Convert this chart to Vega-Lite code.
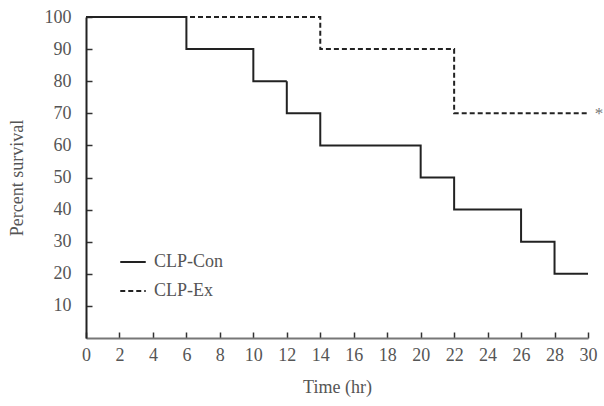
{
  "$schema": "https://vega.github.io/schema/vega-lite/v6.json",
  "width": 502,
  "height": 321,
  "autosize": {"type": "none"},
  "padding": {"left": 86, "top": 17, "right": 16, "bottom": 68},
  "background": "white",
  "config": {
    "view": {"stroke": null},
    "font": "Liberation Serif"
  },
  "datasets": {
    "surv": [
      {"time": 0, "survival": 100, "group": "CLP-Con"},
      {"time": 6, "survival": 90, "group": "CLP-Con"},
      {"time": 10, "survival": 80, "group": "CLP-Con"},
      {"time": 12, "survival": 70, "group": "CLP-Con"},
      {"time": 14, "survival": 60, "group": "CLP-Con"},
      {"time": 20, "survival": 50, "group": "CLP-Con"},
      {"time": 22, "survival": 40, "group": "CLP-Con"},
      {"time": 26, "survival": 30, "group": "CLP-Con"},
      {"time": 28, "survival": 20, "group": "CLP-Con"},
      {"time": 30, "survival": 20, "group": "CLP-Con"},
      {"time": 0, "survival": 100, "group": "CLP-Ex"},
      {"time": 14, "survival": 90, "group": "CLP-Ex"},
      {"time": 22, "survival": 70, "group": "CLP-Ex"},
      {"time": 30, "survival": 70, "group": "CLP-Ex"}
    ],
    "mark": [{"time": 30, "survival": 70, "label": "*"}]
  },
  "encoding": {
    "x": {"field": "time", "type": "quantitative", "title": "Time (hr)",
      "scale": {"domain": [0, 30], "nice": false},
      "axis": {"values": [0,2,4,6,8,10,12,14,16,18,20,22,24,26,28,30], "grid": false, "labelOverlap": false, "labelFont": "Liberation Serif", "titleFont": "Liberation Serif", "labelFontSize": 18, "titleFontSize": 18, "labelColor": "#555", "titleColor": "#555", "titleFontWeight": "normal", "domainColor": "#777", "domainWidth": 2, "ticks": true, "tickColor": "#333", "tickSize": -6, "tickWidth": 1.5, "labelPadding": 14, "titlePadding": 14, "labelFlush": false}},
    "y": {"field": "survival", "type": "quantitative", "title": "Percent survival",
      "scale": {"domain": [0, 100], "nice": false},
      "axis": {"values": [10,20,30,40,50,60,70,80,90,100], "grid": false, "labelOverlap": false, "labelFont": "Liberation Serif", "titleFont": "Liberation Serif", "labelFontSize": 18, "titleFontSize": 18, "labelColor": "#555", "titleColor": "#555", "titleFontWeight": "normal", "domainColor": "#222", "domainWidth": 2, "ticks": true, "tickColor": "#333", "tickSize": -6, "tickWidth": 1.5, "labelPadding": 21, "titlePadding": 18}}
  },
  "layer": [
    {
      "data": {"name": "surv"},
      "mark": {"type": "line", "interpolate": "step-after", "strokeWidth": 2, "color": "#222"},
      "encoding": {
        "strokeDash": {"field": "group", "type": "nominal",
          "scale": {"domain": ["CLP-Con", "CLP-Ex"], "range": [[1, 0], [5, 3]]},
          "legend": {"title": null, "orient": "none", "legendX": 33, "legendY": 231, "labelFont": "Liberation Serif", "labelFontSize": 18, "labelColor": "#555", "symbolType": "stroke", "symbolSize": 650, "symbolStrokeWidth": 2, "symbolStrokeColor": "#222", "rowPadding": 6, "labelOffset": 7}}
      }
    },
    {
      "data": {"name": "mark"},
      "mark": {"type": "text", "dx": 11, "dy": 1, "fontSize": 17, "color": "#777", "font": "Liberation Serif"},
      "encoding": {
        "text": {"field": "label"}
      }
    }
  ]
}
